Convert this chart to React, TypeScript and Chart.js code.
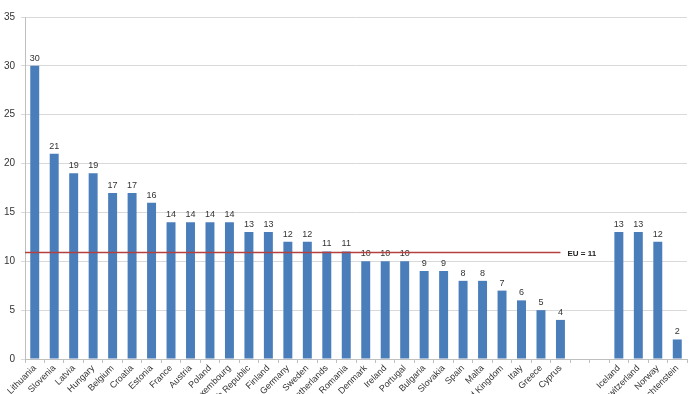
import React, { useEffect, useRef } from "react";
import { Chart, registerables } from "chart.js";

Chart.register(...registerables);

const categories = [
  "Lithuania", "Slovenia", "Latvia", "Hungary", "Belgium", "Croatia", "Estonia",
  "France", "Austria", "Poland", "Luxembourg", "Czech Republic", "Finland",
  "Germany", "Sweden", "Netherlands", "Romania", "Denmark", "Ireland", "Portugal",
  "Bulgaria", "Slovakia", "Spain", "Malta", "United Kingdom", "Italy", "Greece",
  "Cyprus", "", "", "Iceland", "Switzerland", "Norway", "Liechtenstein",
];
const values: (number | null)[] = [
  30, 21, 19, 19, 17, 17, 16, 14, 14, 14, 14, 13, 13, 12, 12, 11, 11, 10, 10, 10,
  9, 9, 8, 8, 7, 6, 5, 4, null, null, 13, 13, 12, 2,
];
const yTicks = [0, 5, 10, 15, 20, 25, 30, 35];
const euValue = 11;
const euLabel = "EU = 11";
const euLastIndex = 27;

const FONT = "'Liberation Sans', Arial, sans-serif";

const valueLabels = {
  id: "valueLabels",
  afterDatasetsDraw(chart: any) {
    const ctx = chart.ctx;
    const meta = chart.getDatasetMeta(0);
    ctx.save();
    ctx.font = `9px ${FONT}`;
    ctx.fillStyle = "#333333";
    ctx.textAlign = "center";
    ctx.textBaseline = "bottom";
    meta.data.forEach((bar: any, i: number) => {
      const v = values[i];
      if (v === null || v === undefined) return;
      ctx.fillText(String(v), bar.x, bar.y - 3);
    });
    ctx.restore();
  },
};

const euLine = {
  id: "euLine",
  afterDatasetsDraw(chart: any) {
    const ctx = chart.ctx;
    const x0 = chart.chartArea.left;
    const x1 = chart.scales.x.getPixelForValue(euLastIndex);
    const y = Math.round(chart.scales.y.getPixelForValue(euValue)) + 0.5;
    ctx.save();
    ctx.strokeStyle = "#b4413f";
    ctx.lineWidth = 1.5;
    ctx.beginPath();
    ctx.moveTo(x0, y);
    ctx.lineTo(x1, y);
    ctx.stroke();
    ctx.font = `bold 8px ${FONT}`;
    ctx.fillStyle = "#222222";
    ctx.textAlign = "left";
    ctx.textBaseline = "middle";
    ctx.fillText(euLabel, x1 + 7, y + 1);
    ctx.restore();
  },
};

export default function App() {
  const ref = useRef<HTMLCanvasElement>(null);
  useEffect(() => {
    if (!ref.current) return;
    const chart = new Chart(ref.current, {
      type: "bar",
      data: {
        labels: categories,
        datasets: [
          {
            data: values,
            backgroundColor: "#4a7ebb",
            borderWidth: 0,
            barPercentage: 0.46,
            categoryPercentage: 1,
          },
        ],
      },
      options: {
        animation: false,
        responsive: false,
        maintainAspectRatio: false,
        layout: { padding: { top: 17, right: 13, left: 0, bottom: 0 } },
        plugins: { legend: { display: false }, tooltip: { enabled: false } },
        scales: {
          x: {
            afterFit: (s: any) => {
              s.height = 35;
            },
            grid: {
              drawOnChartArea: false,
              drawTicks: true,
              tickLength: 4,
              color: "#bfbfbf",
              offset: true,
            },
            border: { color: "#bfbfbf" },
            ticks: {
              autoSkip: false,
              maxRotation: 45,
              minRotation: 45,
              padding: 0,
              color: "#333333",
              font: { size: 9, family: FONT },
            },
          },
          y: {
            min: 0,
            max: 35,
            afterFit: (s: any) => {
              s.width = 25;
            },
            afterBuildTicks: (s: any) => {
              s.ticks = yTicks.map((v) => ({ value: v }));
            },
            grid: { color: "#d9d9d9", tickLength: 4 },
            border: { color: "#bfbfbf" },
            ticks: {
              padding: 6,
              color: "#333333",
              font: { size: 10, family: FONT },
            },
          },
        },
      },
      plugins: [valueLabels, euLine],
    });
    return () => chart.destroy();
  }, []);
  return (
    <div style={{ position: "fixed", left: 0, top: 0, width: 700, height: 394, background: "#fff" }}>
      <canvas ref={ref} width={700} height={394} style={{ display: "block" }} />
    </div>
  );
}
